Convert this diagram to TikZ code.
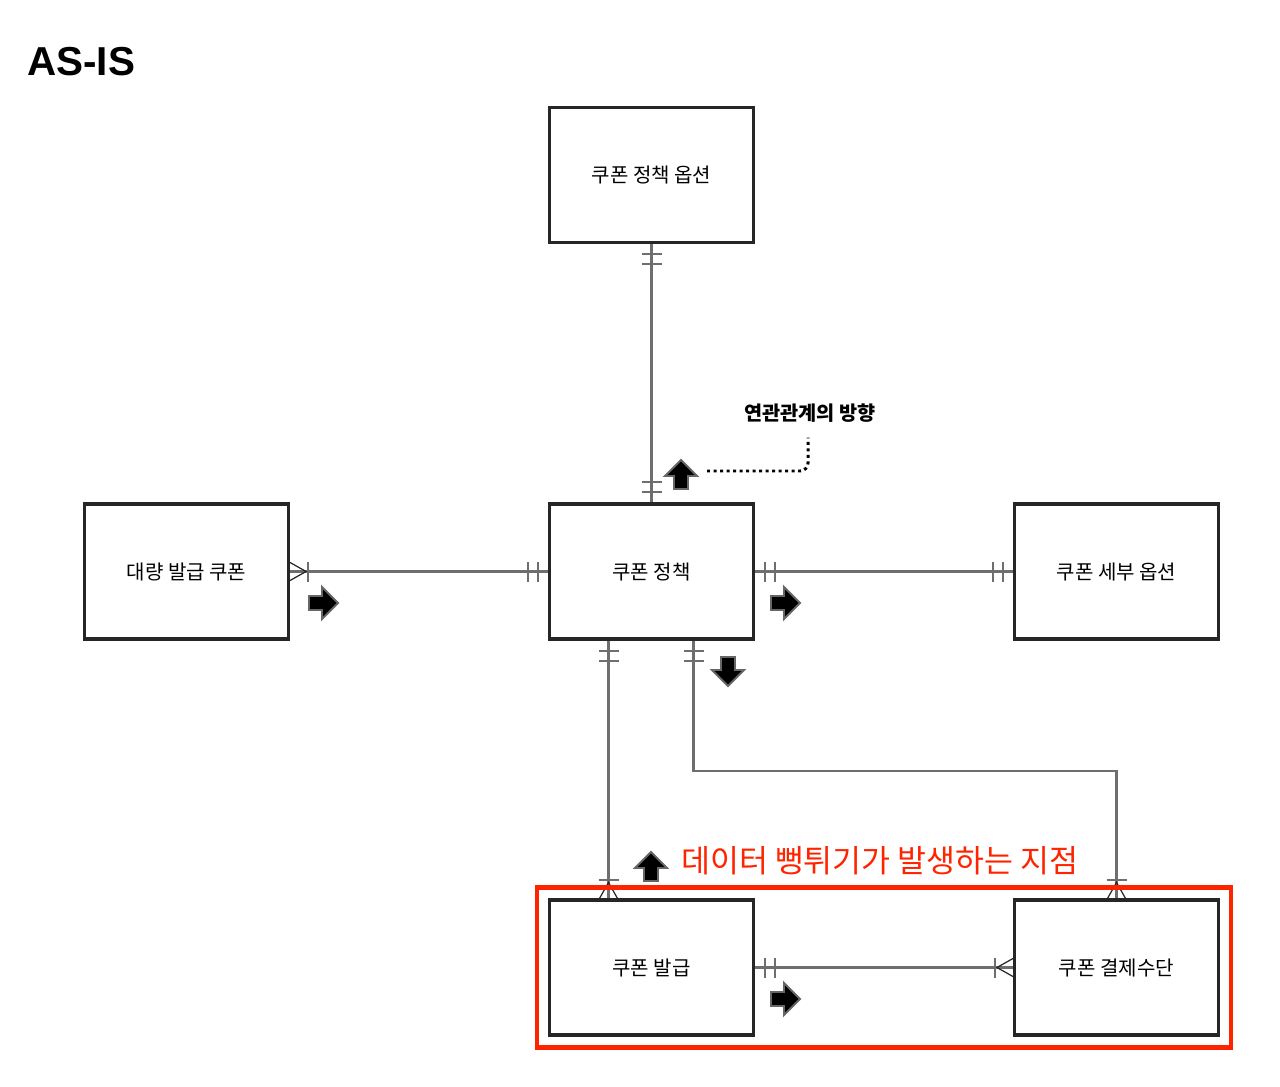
\documentclass[tikz,border=0pt]{standalone}
\usepackage{fontspec}
\setmainfont{Noto Sans CJK KR}
\newfontfamily\titlefont{Liberation Sans}
\usetikzlibrary{calc}
\definecolor{alertred}{RGB}{255,36,0}
\definecolor{connGray}{RGB}{110,110,110}
\begin{document}
\begin{tikzpicture}[x=0.02cm,y=-0.02cm,
  entity/.style={draw=black!85,line width=1.8pt,fill=white,minimum width=4.08cm,minimum height=2.70cm,inner sep=0pt,font=\fontsize{11.4pt}{13pt}\selectfont},
  conn/.style={draw=connGray,line width=1.2pt},
  foot/.style={draw=black!85,line width=0.7pt},
  onlyone/.pic={\draw[conn] (10,-10) -- (10,10) (20,-10) -- (20,10);},
  onemany/.pic={\draw[foot] (0,-9) -- (16,0) -- (0,9); \draw[conn] (18,-10) -- (18,10);},
  blockarrow/.pic={\filldraw[fill=black,draw=black!60,line width=1.1pt,line join=miter] (-14,-7) -- (-1,-7) -- (-1,-16) -- (15,0) -- (-1,16) -- (-1,7) -- (-14,7) -- cycle;}
]
\useasboundingbox (0,0) rectangle (1280,1087);

\node[anchor=west,font=\titlefont\bfseries\fontsize{23pt}{26pt}\selectfont] (title) at (21,62) {AS-IS};

\node[entity] (opt)  at (651.5,175) {쿠폰 정책 옵션};
\node[entity] (pol)  at (651.5,571.5) {쿠폰 정책};
\node[entity] (bulk) at (186.5,571.5) {대량 발급 쿠폰};
\node[entity] (det)  at (1116.5,571.5) {쿠폰 세부 옵션};
\node[entity] (iss)  at (651.5,967.5) {쿠폰 발급};
\node[entity] (pay)  at (1116.5,967.5) {쿠폰 결제수단};

% connectors
\draw[conn] (opt.south) -- (pol.north);
\draw[conn] (bulk.east) -- (pol.west);
\draw[conn] (pol.east) -- (det.west);
\draw[conn] ($(pol.south)+(-43,0)$) -- ($(iss.north)+(-43,0)$);
\draw[conn] ($(pol.south)+(42,0)$) -- ++(0,130) -| (pay.north);
\draw[conn] (iss.east) -- (pay.west);

% cardinality marks
\pic[rotate=-90] at (opt.south) {onlyone};
\pic[rotate=90] at (pol.north) {onlyone};
\pic at (bulk.east) {onemany};
\pic[rotate=180] at (pol.west) {onlyone};
\pic at (pol.east) {onlyone};
\pic[rotate=180] at (det.west) {onlyone};
\pic[rotate=-90] at ($(pol.south)+(-43,0)$) {onlyone};
\pic[rotate=-90] at ($(pol.south)+(42,0)$) {onlyone};
\pic[rotate=90] at ($(iss.north)+(-43,0)$) {onemany};
\pic[rotate=90] at (pay.north) {onemany};
\pic at (iss.east) {onlyone};
\pic[rotate=180] at (pay.west) {onemany};

% direction arrows
\pic[rotate=90] at (681,475) {blockarrow};
\pic at (323,603) {blockarrow};
\pic at (785,603) {blockarrow};
\pic[rotate=-90] at (728,671) {blockarrow};
\pic[rotate=90] at (651,867) {blockarrow};
\pic at (785,999) {blockarrow};

% annotation
\node[font=\bfseries\fontsize{11.2pt}{13pt}\selectfont] (lbl) at (810,413) {연관관계의 방향};
\coordinate (dotend) at (707,471);
\draw[line width=1.7pt,dotted,rounded corners=0.16cm] (dotend) -- (808,471) -- ($(lbl.south)+(-2,9)$);

% red highlight
\draw[alertred,line width=2.4pt] ($(iss.north west)+(-11,-11)$) rectangle ($(pay.south east)+(11,11)$);
\node[anchor=west,text=alertred,font=\fontsize{17.9pt}{20pt}\selectfont] (warn) at (675,861) {데이터 뻥튀기가 발생하는 지점};
\end{tikzpicture}
\end{document}
